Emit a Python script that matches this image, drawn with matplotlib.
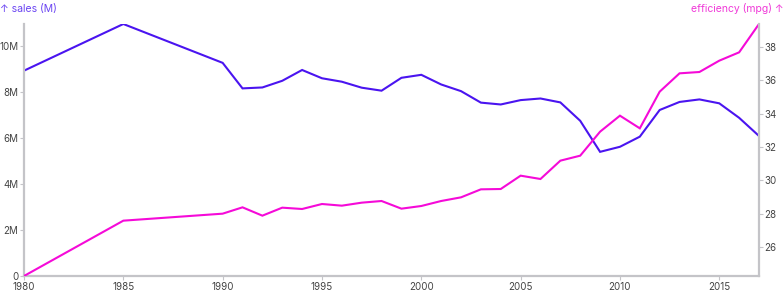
import matplotlib
matplotlib.use("Agg")
import matplotlib.pyplot as plt

plt.rcParams['font.family'] = ['Inter', 'DejaVu Sans']

# US light vehicle sales (millions) and fleet efficiency (mpg)
years = [1980, 1985] + list(range(1990, 2018))
sales = [8.93, 10.96, 9.27, 8.16, 8.20, 8.49, 8.96, 8.60, 8.45, 8.19, 8.06,
         8.62, 8.75, 8.33, 8.04, 7.54, 7.46, 7.65, 7.72, 7.55, 6.75, 5.40,
         5.62, 6.06, 7.22, 7.57, 7.68, 7.51, 6.88, 6.09]
efficiency = [24.26, 27.58, 28.00, 28.38, 27.88, 28.36, 28.28, 28.58, 28.48,
              28.66, 28.76, 28.30, 28.46, 28.76, 28.98, 29.46, 29.48, 30.28,
              30.08, 31.18, 31.48, 32.92, 33.88, 33.12, 35.32, 36.42, 36.50,
              37.18, 37.68, 39.38]

sales_ticks = [0, 2, 4, 6, 8, 10]
sales_labels = ["0", "2M", "4M", "6M", "8M", "10M"]
eff_ticks = [26, 28, 30, 32, 34, 36, 38]
year_ticks = [1980, 1985, 1990, 1995, 2000, 2005, 2010, 2015]

c_sales = "#4a14f0"
c_eff = "#f50ad8"
axis_c = "#c4c4c8"
text_c = "#444444"

fig = plt.figure(figsize=(7.84, 3.0), dpi=100)
ax = fig.add_axes([24 / 784, 24 / 300, (759 - 24) / 784, (276 - 24) / 300])
ax2 = ax.twinx()

ax.plot(years, sales, color=c_sales, lw=1.5, solid_joinstyle="miter")
ax2.plot(years, efficiency, color=c_eff, lw=1.5, solid_joinstyle="miter")

ax.set_xlim(1980, 2017)
ax.set_ylim(0, max(sales))
ax2.set_ylim(min(efficiency), max(efficiency))

ax.set_xticks(year_ticks)
ax.set_xticklabels([str(y) for y in year_ticks])
ax.set_yticks(sales_ticks)
ax.set_yticklabels(sales_labels)
ax2.set_yticks(eff_ticks)

for a in (ax, ax2):
    a.set_facecolor("none")
    for s in a.spines.values():
        s.set_visible(False)
    a.tick_params(colors=axis_c, labelcolor=text_c, labelsize=7,
                  length=3, width=0.8, pad=1)

ax.spines["left"].set_visible(True)
ax.spines["bottom"].set_visible(True)
ax2.spines["right"].set_visible(True)
for s in (ax.spines["left"], ax.spines["bottom"], ax2.spines["right"]):
    s.set_color(axis_c)
    s.set_linewidth(1.6)
ax.tick_params(axis="y", left=True, right=False)
ax2.tick_params(axis="y", right=True, left=False)

fig.text(0.0, 1 - 9 / 300, "↑ sales (M)", color="#6a44f2", fontsize=7.5,
         ha="left", va="center")
fig.text(1.0, 1 - 9 / 300, "efficiency (mpg) ↑", color="#f03ad8", fontsize=7.5,
         ha="right", va="center")

fig.savefig("out.png", dpi=100)
